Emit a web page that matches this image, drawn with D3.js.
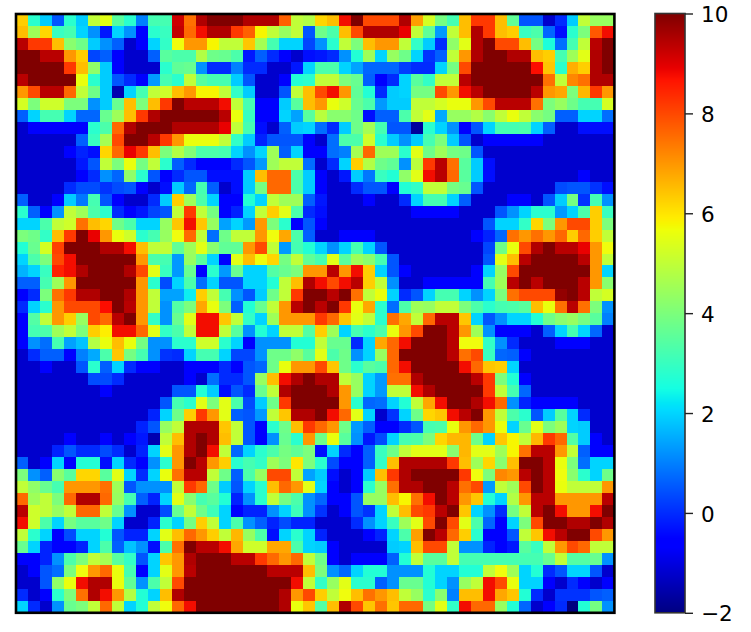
<!DOCTYPE html>
<html>
<head>
<meta charset="utf-8">
<script src="https://cdn.jsdelivr.net/npm/d3@7"></script>
<style>
  html, body { margin: 0; padding: 0; background: #fff; }
  svg { display: block; }
  text { font-family: "DejaVu Sans", sans-serif; }
</style>
</head>
<body>
<svg id="chart" width="751" height="632"></svg>
<script>
// cell values, one array per row (top to bottom)
const row00 = [6.3,2.8,1.9,0.5,2.8,1.9,5,5.5,3.5,2.8,1,3.2,3.2,9.2,7.5,9.5,10,10,10,9.5,9.5,9.5,7.7,5,4.8,6.2,6.5,8.8,10,8,8,8,9.5,6.9,5.3,3.9,3.2,6.5,8.2,8.2,6.5,3.6,0.5,0.5,-1.2,0,1.9,5,4.4,4.4];
const row01 = [6.5,4.5,6.2,3,3.2,2,1.2,-0.2,2,1.2,-0.5,2.8,3,9.3,7.6,8.8,9.5,9.5,8.2,7.7,5.8,5,4.4,5,0.5,3.8,3.3,6.5,8,9.5,9.5,9.5,8.9,5,3.6,1.3,5,6.5,9.5,8.2,6.5,6.3,3,3.3,0.7,-0.4,2.8,4,7.8,8.8];
const row02 = [9.4,8.2,8.2,6.5,4.2,3.8,1.9,1.2,0.6,-1.2,-0.5,2,2.9,5.7,7,7,5.8,5,5,6.4,4.6,3.2,2,2,0.3,1.2,2.8,5,4,6.5,7,7,5,2.9,1.9,0,4.3,5.5,9.5,10,8,8,6.5,3.9,2.6,0.8,3.2,5,9.4,10];
const row03 = [10,10,9.4,9.4,7,6.3,0.3,0.6,-0.5,-1.2,-1.2,0.6,3.5,3.3,3.3,4.8,3.8,3.7,3.3,-0.2,0.6,0,-0.5,-1.2,-0.3,-0.2,0,1.2,2.7,4.5,2,4.4,3.8,2,0.1,0.6,5,7,9.5,10,10,9.5,9.5,6.5,6.3,3.2,4.5,5.5,9.5,10];
const row04 = [10,10,10,10,8.2,6.5,4.3,1.9,-0.5,-1.2,-1.2,-1.2,2.8,3.6,3.7,1.2,0,0,1,0,0,-1.2,-1.2,-0.2,2,3.3,3.3,2,1.4,0.7,0.7,0.7,0.2,0,0,2,3.9,8,10,10,10,10,10,8.7,6.4,2.8,6.7,6.3,9.5,10];
const row05 = [9.4,10,10,10,10,5.6,2.8,1.9,0.5,0,-0.5,1.3,3.2,2.8,5,3.5,3.2,3.2,1.9,0.5,-1.2,-1.2,-0.5,2.7,2.8,5,5,4,3.7,0.6,-0.5,0,2,3.5,2.9,5,5,9.4,10,10,10,10,10,10,7.5,5,7.2,7.5,9.5,9.5];
const row06 = [7,8,9.4,9.4,7.6,5,3.8,1.9,-1.5,2,3.2,5,5.2,6.5,7,5.8,5.8,5,2.9,1.9,-1.2,-1.2,0.5,5,6.5,8,8.8,7,3.6,2.7,0,1.9,2,3.9,3.9,8,7,8.8,9.4,10,10,10,10,9.4,7,6.8,4,6.6,8.2,7];
const row07 = [5.3,4,5.2,5.2,4,4,1.2,1.9,3.7,6.5,4,6.5,8.2,10,9.4,9.4,9.4,8.8,5,3.2,-0.5,-0.5,1.9,3.5,6.5,7,5.6,5.2,3.7,3.3,1.3,1.9,1.9,5,5,5.3,5.6,5.6,7,8,9.4,9.4,9.4,7.5,4,4.4,3.8,3.2,3.2,5.3];
const row08 = [0.6,2,3.2,3.2,2,0.7,0.7,3.7,4.5,6.5,8.2,9.5,10,10,10,10,10,9.4,5.6,3,-0.5,-0.5,2,1.4,3.5,4.9,4.2,4.2,3.8,-0.3,0.6,0.6,3.3,5,5.5,1.5,4.4,4.4,4.8,4.2,5,5.6,5,4.2,3.9,0.6,0.6,2,2,0.8];
const row09 = [-1.2,-0.5,-0.5,-0.5,-0.5,-0.5,2.8,3.3,7.6,9.5,10,10,10,9.5,9.5,9.5,9.5,8.9,5,3.2,-0.4,-1.2,0.6,1.9,2,0.8,0,1.9,3.8,4.6,3.2,0.5,0.5,-1.7,2.8,2,1.2,-0.5,0.5,2,3.2,3.2,3.3,2,0.6,-1.2,-1.2,-0.4,-0.4,-0.4];
const row10 = [-1.2,-1.2,-1.2,-1.2,-1.2,0.6,3,4.6,8,10,10,9.4,8.2,7,5.6,5.6,5.6,5,2.9,1.9,-0.1,0.5,0.5,0.5,-0.5,-1.2,0.8,3.3,3.3,5.2,2.8,1.9,1.2,1.9,3.2,4,1.9,0.5,-1.2,-0.5,-0.5,-0.5,-0.5,-0.5,-1.2,-1.2,-1.2,-1.2,-1.2,-1.2];
const row11 = [-1.2,-1.2,-1.2,-1.2,-0.5,-0.1,-0.4,6.2,7.6,8.9,8.2,6.5,4,4.8,4.1,3.3,3.3,3.2,2,1.2,2,4.5,0.6,2,-0.5,-0.5,0.8,1,4.6,7.6,4.5,4.5,2.8,5.5,3.8,4.5,3.9,3.8,0.5,-1.2,-1.2,-1.2,-1.2,-1.2,-1.2,-1.2,-1.2,-1.2,-1.2,-1.2];
const row12 = [-1.2,-1.2,-1.2,-1.2,-1.2,-0.2,0.5,5,4,5.6,3.9,5,2.8,0.6,0,-0.5,-0.5,-0.5,0,0.5,1.3,4.5,5,5,0.8,-1.2,0,2,6.3,4.8,3.8,3.6,1.2,4.9,8.2,9.4,7.5,3.5,1.9,-0.4,-1.2,-1.2,-1.2,-1.2,-1.2,-1.2,-1.2,-1.2,-1.2,-1.2];
const row13 = [-1.2,-1.2,-1.2,-1.2,-1.2,-0.5,0,1.2,0.7,4.3,2.8,0.5,-0.5,0,0.5,0.5,-0.3,-0.3,-0.3,1.9,6.5,7.6,7.6,3.3,1.9,-0.5,-1.2,-0.2,1.9,0.9,3,2.7,4.3,5.5,8.8,9.4,7.6,3.5,1.9,-0.4,-1.2,-1.2,-1.2,-1.2,-1.2,-1.2,-1.2,-0.5,-1.2,-1.2];
const row14 = [-1.2,-1.2,-1.2,-1.2,0,0.4,0.4,0.1,0.4,0.5,-0.5,-1.2,-0.3,1.9,0.7,3.2,0.6,-1.2,-0.4,1.9,3.9,7.6,7.6,3.3,1.9,-0.5,-1.2,-1.2,0,0.5,0.5,-0.5,2.7,2.9,5,5,3.9,3.7,0.5,-1.2,-1.2,-1.2,-1.2,-1.2,-1.2,0.4,0.5,0.5,0.1,-0.3];
const row15 = [0.6,-1.2,-1.2,-0.5,1.9,0.9,3.2,0.5,-0.5,-1.2,-1.2,0,1.9,6.3,4.5,3.3,2,-0.5,-0.5,2.7,2,5,4.5,4.5,0.6,-0.2,-1.2,-1.2,-1.2,-0.5,-1.2,-1.2,0,2,3.2,3.2,2,0.6,-1.2,-1.2,-1.2,-0.5,-0.5,-1.2,0.5,1.9,3.9,0.1,3.2,1.2];
const row16 = [2.8,0.6,-0.5,1.2,5,4.5,3.3,2.8,0,-0.5,-0.2,0.3,0.5,5,8.2,5,3.9,-0.5,-0.1,2,5,6.3,5.5,3.3,0,-0.3,-1.2,-1.2,-1.2,-1.2,-1.2,-1.2,-1.2,-0.5,-0.5,-0.5,-0.5,-1.2,-1.2,-1.2,0.5,1.2,2,2.8,2.8,1.3,2,3.3,6.3,3];
const row17 = [2,2,3.3,5,5.2,7.5,6.5,6.2,3.8,3.3,2,2,4.4,6.4,8.8,6.4,4.4,1.4,2,1.3,7,4,2.8,-0.5,0.5,-0.5,-1.2,-1.2,-1.2,-1.2,-1.2,-1.2,-1.2,-1.2,-1.2,-1.2,-1.2,-1.2,-1.2,0.5,2,2,2.9,6.2,4,7,8,8,6.3,4];
const row18 = [4,3.8,2.9,6.5,8.2,10,8.9,7,5.6,5.2,2.8,3.2,4.4,5.7,7.6,5,0.8,3.8,5,5,7,5.7,6.8,3.3,0.6,-1.2,-1.2,-0.5,-0.5,-0.5,-1.2,-1.2,-1.2,-1.2,-1.2,-1.2,-1.2,-1.2,-0.5,-0.1,0.7,7.5,7,7.5,7,7.6,6.3,7.6,6.3,5];
const row19 = [2.7,3.7,5.3,8.1,10,10,10,9.5,9.5,8.8,6.5,5,5,3.6,4.5,5.5,4.2,3.6,3.6,7,8,5,1.3,3.2,2.7,2,1.2,2,3.2,2,0.5,-1.2,-1.2,-1.2,-1.2,-1.2,-1.2,-1.2,-1.2,0.3,3.8,5.6,8,9.5,10,9.4,9.4,8.9,7,5.7];
const row20 = [2,3.3,4,8,8.8,10,10,10,10,10,7,3.3,3.2,1.3,4.4,3.5,2,-0.5,5.5,6.5,5.7,6.2,3.9,5,3.6,3.2,5.5,3.5,4.5,4.2,3.2,0.5,-1.2,-1.2,-1.2,-1.2,-1.2,-1.2,-1.2,0.5,5.5,6.5,9.4,10,10,10,10,9.4,7,5];
const row21 = [1.6,2,3,8.5,8.8,9.5,10,10,10,9.5,8,5.5,3,1.3,3.7,-0.5,2.8,1.3,3.7,2,2,3.4,3.7,4,7,7,9.4,7,8.8,6.3,2,0.5,-0.5,-1.2,-1.2,-1.2,-1.2,-1.2,-0.5,2,4.4,8,10,10,10,10,10,10,7,2];
const row22 = [0.6,0.6,3.2,4.5,7,10,10,10,10,10,7,2.8,0.4,2,3.3,0.8,2,0.5,0.5,2,2,2.7,5,6.5,9.5,8.8,8,8.8,9.4,6.3,5,1.2,-1.2,-1.2,-0.5,-0.5,-0.5,-0.5,-0.5,3.2,4.5,9.4,10,9.4,10,10,10,9.4,7,4.2];
const row23 = [-0.5,0,4,7.5,8.2,9.5,9.5,10,10,9.5,7,5,1.4,1.4,2.3,6.3,5,3.2,1.2,0.5,1.9,3.8,5,8.2,10,10,9.4,10,7.5,5,5.6,2,0,0.5,2,3.2,3.2,2,1.2,2,4,7.5,8,8,8,9.8,10,9.4,5,5.3];
const row24 = [0,2,2.8,7,8,8,8,8.7,10,9.4,7,5,1.2,3.4,4,6.8,5.6,4,0.6,2.7,3.7,5,7,9.4,10,9.4,10,8.2,5.6,6.8,2.8,0.8,3.3,4.5,4.4,5,5,4,3.3,2.8,3.2,3.3,3.5,6.5,5.6,7.5,9.4,7.5,4,1.2];
const row25 = [-0.5,3.4,5,7,6.3,4.4,8,7.6,9.4,10,7,2.9,1.2,3.7,5.5,8.8,8.8,6.4,5,2.9,2,4.5,7,7,7,8.2,7.6,6.4,5.5,5,2.8,7.5,6.8,5,7.6,9.4,9.4,6.4,2,0.5,1.2,2,2,2.7,3.8,4.2,4.4,3.9,3.5,1];
const row26 = [-0.5,3.2,3.3,4.5,5,4,6.3,5.9,8.8,8.8,7.6,5.5,2.9,3.3,5,8.8,8.8,5,3.5,1.2,2.7,2,5,5,3.4,6.3,4.5,2,3.2,2.8,3.3,5.6,7,8,10,10,9.4,7,4.5,1.2,-0.5,-0.5,-0.5,-1.2,0.6,2,3.2,2,0.7,-1.2];
const row27 = [-0.5,1.2,0.8,3.2,1.4,1.8,4.8,5.6,6.5,5.6,3.9,1.2,1.2,2.8,2.8,5.2,5.2,2.8,2,-0.5,1.2,1.2,1.2,2.7,2.7,5,3.7,3.7,0,2,6.8,7.6,8.8,10,10,10,9.4,5.7,5.7,2.9,1.2,0,-1.2,-1.2,-1.2,-0.5,-0.5,-0.5,-1.2,-1.2];
const row28 = [-1.2,0,0.6,0.6,-0.5,1,1.5,3.3,6.4,3.9,3.2,1.2,0.1,0,2,3.2,3.2,2,0.3,0.3,1.2,3.8,3.8,4.3,3.5,5.5,3.3,3.8,1.2,2,4.4,7.6,10,10,10,10,9.4,7.5,8,3,0.7,0.6,-0.5,-1.2,-1.2,-1.2,-1.2,-1.2,-1.2,-1.2];
const row29 = [-1.2,-1.2,-0.5,-1.2,-1.2,0.5,2.8,0.6,2,0,-0.5,-0.5,-1.2,-1.2,-0.5,-0.5,-0.5,0,-0.5,0.5,0.7,3.8,5.6,7,7,8,6.4,3.8,2.8,3.5,3.3,7.6,8.8,10,10,10,10,8.8,7.6,6.4,6.3,2,-1.2,-1.2,-1.2,-1.2,-1.2,-1.2,-1.2,-1.2];
const row30 = [-1.2,-1.2,-1.2,-1.2,-1.2,-1.2,0.4,0.4,0,-1.2,-1.2,-1.2,-1.2,-1.2,-0.5,-1.2,0.8,0,0,0.5,4.4,6.5,8.8,9.5,10,9.5,9.5,5,4.4,2,1.3,7.5,7.5,9.5,10,10,10,10,9.4,8.2,4,2.7,-0.5,-1.2,-1.2,-1.2,-1.2,-1.2,-1.2,-1.2];
const row31 = [-1.2,-1.2,-1.2,-1.2,-1.2,-1.2,-1.2,-0.5,-1.2,-1.2,-1.2,-1.2,-1.2,0.5,0.5,2.7,1.9,-0.4,0.5,0,3.7,5,9.5,10,10,10,9.5,7,4.4,2,1.3,5,5,8.8,9.5,10,10,10,10,8.2,5,3.2,0.7,-1.2,-1.2,-1.2,-1.2,-1.2,-1.2,-1.2];
const row32 = [-1.2,-1.2,-1.2,-1.2,-1.2,-1.2,-1.2,-1.2,-1.2,-1.2,-1.2,-1.2,0.5,3.2,2.8,5.5,4,5.5,3.3,0.4,1.9,3.8,8.2,10,10,10,10,7,2.8,0.7,0.8,2,2.7,5,6.8,8.8,10,10,9.5,8.8,7.6,1.2,-0.1,-0.5,-0.5,-0.5,-0.5,-1.2,-1.2,-1.2];
const row33 = [-1.2,-1.2,-1.2,-1.2,-1.2,-1.2,-1.2,-1.2,-1.2,-1.2,-1.2,-0.1,2,3.8,6.3,8.2,7,5.5,0.6,0.5,1.3,5,6.4,9.5,9.5,10,8.8,7.6,5.5,2,-1.2,0.1,2,3.8,6.2,6.4,8.8,9.4,10,7,5,3.3,2.8,0.5,1.9,3.5,2,0,-1.2,-1.2];
const row34 = [-1.2,-1.2,-1.2,-1.2,-1.2,-1.2,-1.2,-1.2,-1.2,-1.2,-0.1,0.5,4.4,5,9.5,9.5,9.5,6.4,5,0.5,-0.5,2.8,3.8,6.5,8.2,7.6,7,3.8,1.3,0.6,-0.5,-0.5,0,0.5,3.2,3.3,5.6,7,7.6,7,5.6,2,3.7,5.5,4,4.5,2,1.9,-1.2,-1.2];
const row35 = [-1.2,-1.2,-1.2,-1.2,-0.5,-1.2,-1.2,-0.5,-1.2,-0.5,-0.2,-1.5,5,6.5,9.5,10,9.5,6.5,5,0.5,-0.5,1.2,3.7,2.8,7,3.8,5.6,3.5,1.2,-0.2,0.4,2,3.2,3.3,4,6.2,6.6,6.6,3.8,2,6.4,5.8,5,6.6,8.2,7.6,3.4,1.9,-0.5,-1.2];
const row36 = [-1.2,-1.2,-1.2,-0.1,0.5,0,0,0.4,0,-1.2,-0.1,2,5.5,7,9.5,10,8.8,5,0.7,2,2.8,3.3,3.9,3.6,4,-0.3,2,0,-0.5,0.6,3,3.8,5,5.5,5.5,5.5,4.2,6.6,5.5,5.5,4.5,5.8,7.5,9.4,9.4,7,5,0.6,-0.5,-0.5];
const row37 = [0.6,-1.2,-0.5,2,-0.5,2.7,2.7,-0.4,2,0,-0.5,1.2,2.8,7,10,9.4,7,6.3,2.8,3.2,2.9,4.5,4,6,4,2.8,0.4,-0.5,-0.5,0.6,2.9,6.5,9.5,9.5,9.5,9.5,8.2,6.5,4.5,6.2,4.2,6.5,10,10,9.4,5.6,4,0.8,2,2];
const row38 = [4,1.2,0.6,4.2,3.5,6.2,6.2,3.5,5.5,2,0,2,5.6,7.5,9.4,9.4,5,3.8,0.6,3.3,4.4,8,8,5,1.4,1.9,-0.3,-1.2,-0.5,1.9,6.5,8.2,9.5,10,10,10,10,8.2,5.7,4,7.2,7,9.4,10,9.4,5.7,4.2,2.8,2,3.8];
const row39 = [5,4.3,3.7,3.2,7,7,7,7.5,4.5,0.5,1.2,1.2,1.2,5,8.2,7.6,3.8,1.9,0.5,2,2.8,6.5,7.6,7,5.5,2,-0.5,-1.2,-0.5,2.8,4.4,7.5,9.5,9.5,10,10,9.4,7.5,8,1.3,5,4.5,8,10,9.4,5.6,5,5,5,7];
const row40 = [7.6,4.5,5,4,7.6,9.5,9.5,7.6,4.4,3.2,0.6,-0.1,2,5.5,4.2,3.2,3.5,2.7,-0.1,1.2,2.8,5,3.9,3.3,1.2,0.7,-0.5,-0.5,0.5,4.4,4.4,6.5,5.8,7.5,8.8,10,9.4,7,6.4,2.7,2,4.8,7,9.4,9.4,7,7,7,7,9.4];
const row41 = [9.4,5.2,5,4.4,5,7.6,7.6,5,3.7,1.2,-1.2,-1.2,0.4,3.7,5,3.8,3.1,2,-0.5,-0.1,-0.1,1.2,2,3.1,1.2,0.1,-1.2,-0.5,0.5,0.1,2,5,6.5,8,8.2,9.4,10,6.4,2,1.2,0,3.9,5,9.4,10,8.8,7,7,8.8,10];
const row42 = [8.8,5.2,3.3,2,3.9,3.5,3.5,3.8,2,-1.2,-1.2,-0.1,2.8,2,3.9,6.3,5,2,3.3,1.2,0.6,-0.1,0.4,-0.1,-0.1,-1.2,-1.2,-1.2,0,1.2,2,3,4.5,5.5,8,10,8,5.5,3.3,0.7,-0.5,2,4,8,10,10,9.5,9.5,10,9.5];
const row43 = [5,2.8,2,-0.5,0.4,2,2,2.7,0.5,-0.1,-0.1,2,5.5,6.5,7.6,7,6.3,5,6.6,4.4,3.3,-0.3,2,2.8,2,-0.1,-1.2,-1.2,-1.2,-0.5,-0.1,2,3.3,6.9,10,9.4,7.6,6.3,2.8,-0.5,-0.5,0.5,5,6.4,8.8,9.4,10,10,8,7];
const row44 = [3.7,2,-0.1,-0.5,-0.5,-0.1,2,3.3,0.6,1.8,1.2,-0.4,3.3,7.5,10,9.4,9.4,8.8,6.8,5.2,5.2,6.8,6.8,3.3,2,1.9,-0.5,-1.2,-1.2,-1.2,-1.2,1.9,2,6.5,8,8,5,1.2,1.2,-0.1,-0.5,-0.2,3.5,3,5,7,8,7.6,5,5];
const row45 = [-0.5,-0.5,-0.1,1.2,3.3,4,5,4.6,3.5,2.9,0.5,2,6.4,7,9.5,10,10,10,9.4,9.4,8.2,7.6,7,7.6,5,3.8,-0.5,-1.2,-0.5,-0.5,-0.5,0.6,2.7,5,3.5,3.5,5,3.2,3.2,3.2,3.2,3.2,3.2,3.2,3.7,5,3.4,3.4,3.7,1.2];
const row46 = [-1.2,-0.5,0.5,0.8,4,5.7,7,7.6,5.6,3.2,-0.5,2,5.5,7,9.4,10,10,10,10,10,10,9.4,9.4,9.4,6.5,4,1.2,0.7,2,2.7,2.7,1.2,1.2,1.2,2.7,2,2,2.7,2.7,5,5.7,4.5,2,2.7,0,0.5,2,2,0.5,-1.2];
const row47 = [-1.2,-1.2,0.5,4.3,5.6,8.8,9.5,9.5,5.6,3.6,1.2,3.3,5,8,10,10,10,10,10,10,10,10,10,8.8,5,2.9,4.4,5.5,2.8,2.8,0.6,1.2,3.7,3.7,2.7,2,1.2,4.4,5,8.8,8,5.6,2,2,-0.5,-1.2,0,-0.5,-1.2,-0.5];
const row48 = [0,-1.2,-0.5,2.8,4,7.5,9.5,8.8,7,4.8,2.7,2,6.5,9.5,10,10,10,10,10,10,10,10,9.5,7,8,6.3,5,5.7,6.5,7.5,7,6.5,5,4.4,2.8,4.2,1,6.5,6.5,8.8,6.8,6.4,2.7,0,-1.2,0.1,0.1,0.1,0.5,0.6];
const row49 = [2,0,-1.2,1.2,3.7,4,5,7.6,5,2,2.7,5,5.7,7.6,8.8,10,10,10,10,10,10,10,9.5,5.6,6.4,3.4,6.5,9.5,8,6.4,7.5,6.4,7.6,7.6,3.9,5.5,2.9,8.8,7.6,7.6,4.4,2.7,0.7,-1.2,-0.5,0,-2,2.7,3.9,1.2];

const rows = [row00,row01,row02,row03,row04,row05,row06,row07,row08,row09,
  row10,row11,row12,row13,row14,row15,row16,row17,row18,row19,
  row20,row21,row22,row23,row24,row25,row26,row27,row28,row29,
  row30,row31,row32,row33,row34,row35,row36,row37,row38,row39,
  row40,row41,row42,row43,row44,row45,row46,row47,row48,row49];

const colorTicks = [-2, 0, 2, 4, 6, 8, 10];

const plotLeft = 16, plotRight = 614.4, plotTop = 14, plotBottom = 612.8;
const barLeft = 655, barRight = 685;

const svg = d3.select('#chart');

// the reference is slightly soft, as if scaled down
svg.append('defs')
  .append('filter')
  .attr('id', 'soft')
  .append('feGaussianBlur')
  .attr('stdDeviation', 0.5);

// jet colormap, one linear piece per channel
const jetR = d3.scaleLinear().domain([0, 0.35, 0.66, 0.89, 1]).range([0, 0, 1, 1, 0.5]);
const jetG = d3.scaleLinear().domain([0, 0.125, 0.375, 0.64, 0.91, 1]).range([0, 0, 1, 1, 0, 0]);
const jetB = d3.scaleLinear().domain([0, 0.11, 0.34, 0.65, 1]).range([0.5, 1, 1, 0, 0]);
const norm = d3.scaleLinear().domain([-2, 10]).range([0, 1]).clamp(true);
const color = v => {
  const t = norm(v);
  return d3.rgb(jetR(t) * 255, jetG(t) * 255, jetB(t) * 255).formatRgb();
};

const x = d3.scaleBand().domain(d3.range(rows[0].length)).range([plotLeft, plotRight]);
const y = d3.scaleBand().domain(d3.range(rows.length)).range([plotTop, plotBottom]);

svg.append('g')
  .attr('filter', 'url(#soft)')
  .attr('shape-rendering', 'crispEdges')
  .selectAll('g')
  .data(rows)
  .join('g')
  .attr('transform', (d, i) => `translate(0, ${y(i)})`)
  .selectAll('rect')
  .data(d => d)
  .join('rect')
  .attr('x', (d, i) => x(i))
  .attr('width', x.bandwidth() + 0.5)
  .attr('height', y.bandwidth() + 0.5)
  .attr('fill', d => color(d));

svg.append('rect')
  .attr('x', plotLeft)
  .attr('y', plotTop)
  .attr('width', plotRight - plotLeft)
  .attr('height', plotBottom - plotTop)
  .attr('fill', 'none')
  .attr('stroke', '#000')
  .attr('stroke-width', 2.6);

// colorbar
const barScale = d3.scaleLinear().domain([-2, 10]).range([plotBottom, 13.5]);
const barSteps = d3.range(599).map(i => barScale.invert(13.5 + i + 0.5));

svg.append('g')
  .attr('shape-rendering', 'crispEdges')
  .selectAll('rect')
  .data(barSteps)
  .join('rect')
  .attr('x', barLeft)
  .attr('y', d => barScale(d) - 0.5)
  .attr('width', barRight - barLeft)
  .attr('height', 1.5)
  .attr('fill', d => color(d));

svg.append('rect')
  .attr('x', barLeft)
  .attr('y', 13.5)
  .attr('width', barRight - barLeft)
  .attr('height', plotBottom - 13.5)
  .attr('fill', 'none')
  .attr('stroke', '#333')
  .attr('stroke-width', 1.6);

const barAxis = d3.axisRight(barScale).tickValues(colorTicks).tickSize(8).tickPadding(8);
const barGroup = svg.append('g')
  .attr('transform', `translate(${barRight}, 0)`)
  .call(barAxis);
barGroup.select('.domain').remove();
barGroup.selectAll('line').attr('stroke', '#222').attr('stroke-width', 1.4);
barGroup.selectAll('text')
  .attr('font-family', '"DejaVu Sans", sans-serif')
  .attr('font-size', 21.5)
  .attr('dy', '0.38em')
  .attr('fill', '#000');
</script>
</body>
</html>
